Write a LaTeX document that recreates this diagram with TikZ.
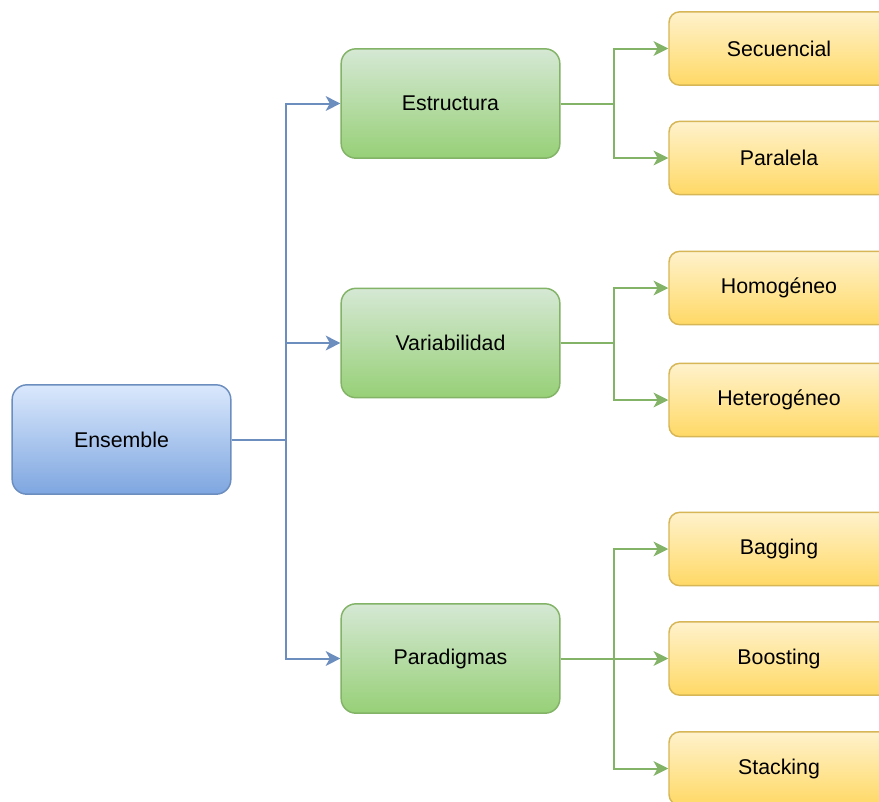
\documentclass[tikz,border=0pt]{standalone}
\usepackage{fontspec}
\setmainfont{Liberation Sans}
\usetikzlibrary{arrows.meta}
\definecolor{bluetop}{HTML}{DAE8FC}
\definecolor{bluebot}{HTML}{7EA6E0}
\definecolor{bluedraw}{HTML}{6C8EBF}
\definecolor{greentop}{HTML}{D5E8D4}
\definecolor{greenbot}{HTML}{97D077}
\definecolor{greendraw}{HTML}{82B366}
\definecolor{yellowtop}{HTML}{FFF2CC}
\definecolor{yellowbot}{HTML}{FFD966}
\definecolor{yellowdraw}{HTML}{D6B656}
\tikzset{
  box/.style={rounded corners=11pt, line width=1.1pt, font=\fontsize{16}{19}\selectfont,
    inner sep=0pt, text=black},
  rootbox/.style={box, draw=bluedraw, top color=bluetop, bottom color=bluebot,
    minimum width=164pt, minimum height=82pt},
  midbox/.style={box, draw=greendraw, top color=greentop, bottom color=greenbot,
    minimum width=164pt, minimum height=82pt},
  leafbox/.style={box, rounded corners=8pt, draw=yellowdraw, top color=yellowtop, bottom color=yellowbot,
    minimum width=165pt, minimum height=55pt},
  link/.style={line width=1.5pt, -{Stealth[length=11pt, width=11pt, inset=3pt]}},
  bluelink/.style={link, draw=bluedraw},
  greenlink/.style={link, draw=greendraw},
}
\begin{document}
\begin{tikzpicture}[x=0.75pt, y=-0.75pt]
\clip (0,0) rectangle (879,801);
\fill[white] (0,0) rectangle (879,801);

% root and second level
\node[rootbox] (ens) at (121.5,439.5) {Ensemble};
\node[midbox] (est) at (450.5,103.5) {Estructura};
\node[midbox] (var) at (450.5,343) {Variabilidad};
\node[midbox] (par) at (450.5,658.5) {Paradigmas};

% leaves
\node[leafbox] (sec) at (779,48.5) {Secuencial};
\node[leafbox] (pal) at (779,158) {Paralela};
\node[leafbox] (hom) at (779,288) {Homogéneo};
\node[leafbox] (het) at (779,400) {Heterogéneo};
\node[leafbox] (bag) at (779,549) {Bagging};
\node[leafbox] (boo) at (779,658.5) {Boosting};
\node[leafbox] (sta) at (779,768.5) {Stacking};

% branch points
\coordinate (bt) at (286,439.5);
\coordinate (g1) at (614,103.5);
\coordinate (g2) at (614,343);
\coordinate (g3) at (614,658.5);

% connectors from the root
\draw[bluelink] (ens.east) -- (bt) |- (est.west);
\draw[bluelink] (ens.east) -- (bt) |- (var.west);
\draw[bluelink] (ens.east) -- (bt) |- (par.west);

% connectors to the leaves
\draw[greenlink] (est.east) -- (g1) |- (sec.west);
\draw[greenlink] (est.east) -- (g1) |- (pal.west);
\draw[greenlink] (var.east) -- (g2) |- (hom.west);
\draw[greenlink] (var.east) -- (g2) |- (het.west);
\draw[greenlink] (par.east) -- (g3) |- (bag.west);
\draw[greenlink] (par.east) -- (g3) |- (boo.west);
\draw[greenlink] (par.east) -- (g3) |- (sta.west);
\end{tikzpicture}
\end{document}
